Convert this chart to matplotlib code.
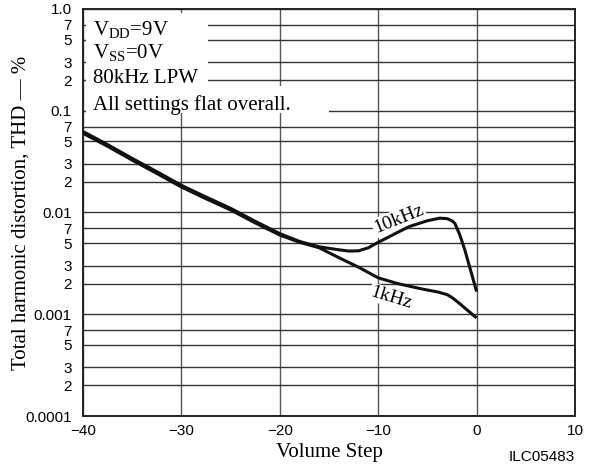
import matplotlib
matplotlib.use("Agg")
import matplotlib.pyplot as plt
from matplotlib.patches import Rectangle
from matplotlib.ticker import FixedLocator

plt.rcParams['mathtext.fontset'] = 'custom'
plt.rcParams['mathtext.rm'] = 'Liberation Serif'
plt.rcParams['mathtext.it'] = 'Liberation Serif'

# ---- data ----
steps_1k = [-40, -37.5, -35, -32.5, -30, -27.5, -25, -22.5, -20, -18, -16, -14, -12,
            -10, -8, -6, -5, -4, -3, -2.5, -2, -1, 0]
thd_1k = [0.0600, 0.0447, 0.0327, 0.0242, 0.0178, 0.01365, 0.0106, 0.0079, 0.0060,
          0.0051, 0.0045, 0.0036, 0.0029, 0.00228, 0.00200, 0.00181, 0.00173, 0.00166,
          0.00156, 0.00146, 0.00134, 0.00111, 0.00092]

steps_10k = [-40, -37.5, -35, -32.5, -30, -27.5, -25, -22.5, -20, -18, -16, -14, -13,
             -12, -11, -10, -9, -8, -6.8, -5, -3.75, -3, -2.5, -2.2, -1.7, -1.2, -0.7, 0]
thd_10k = [0.0625, 0.0465, 0.0340, 0.0252, 0.0185, 0.0142, 0.0110, 0.0082, 0.0062,
           0.0052, 0.0046, 0.0043, 0.00418, 0.0042, 0.0045, 0.0051, 0.0057, 0.0064,
           0.0073, 0.0083, 0.0088, 0.0087, 0.0083, 0.0078, 0.0060, 0.0043, 0.0029,
           0.00167]

x_ticks = [-40, -30, -20, -10, 0, 10]
x_tick_labels = ['\u221240', '\u221230', '\u221220', '\u221210', '0', '10']
y_major = [1.0, 0.1, 0.01, 0.001, 0.0001]
y_major_labels = ['1.0', '0.1', '0.01', '0.001', '0.0001']
minor_digits = [2, 3, 5, 7]

notes = ['V$_{\\rm DD}$=9V', 'V$_{\\rm SS}$=0V', '80kHz LPW', 'All settings flat overall.']

# ---- figure ----
W, H = 592, 468
fig = plt.figure(figsize=(W / 100, H / 100), dpi=100)
ax = fig.add_axes([83 / W, (H - 416) / H, 492 / W, 407 / H])
ax.set_yscale('log')
ax.set_xlim(-40, 10)
ax.set_ylim(0.0001, 1.0)

# ticks
ax.set_xticks(x_ticks)
ax.set_xticklabels(x_tick_labels)
minor_vals = [d * m for m in [0.0001, 0.001, 0.01, 0.1] for d in minor_digits]
ax.yaxis.set_major_locator(FixedLocator(y_major))
ax.set_yticklabels(y_major_labels)
ax.yaxis.set_minor_locator(FixedLocator(minor_vals))
ax.set_yticklabels([str(d) for m in range(4) for d in minor_digits], minor=True)
for lab in ax.get_xticklabels() + ax.get_yticklabels() + ax.get_yticklabels(minor=True):
    lab.set_fontfamily('Liberation Sans')
    lab.set_fontsize(11)
ax.tick_params(axis='both', which='both', length=0, pad=8)
ax.tick_params(axis='x', pad=6)

ax.grid(True, which='both', axis='y', color='#333333', lw=1.0)
ax.grid(True, which='major', axis='x', color='#555555', lw=1.0)
ax.set_axisbelow(True)
for sp in ax.spines.values():
    sp.set_linewidth(1.4)
    sp.set_color('#222222')

# white cover boxes for the notes
ax.add_patch(Rectangle((0.006, 0.808), 0.248, 0.182, transform=ax.transAxes,
                       facecolor='white', edgecolor='none', zorder=1.5))
ax.add_patch(Rectangle((0.006, 0.744), 0.494, 0.066, transform=ax.transAxes,
                       facecolor='white', edgecolor='none', zorder=1.5))

# curves
ax.plot(steps_10k, thd_10k, color='#111111', lw=2.2, zorder=5, solid_capstyle='butt')
ax.plot(steps_1k, thd_1k, color='#111111', lw=2.2, zorder=5, solid_capstyle='butt')

serif = 'Liberation Serif'
ypos = [0.936, 0.880, 0.818, 0.752]
for t, yy in zip(notes, ypos):
    ax.text(0.020, yy, t, transform=ax.transAxes, fontfamily=serif, fontsize=15,
            va='baseline', ha='left', zorder=4)

ax.text(-7.9, 0.0086, '10kHz', fontfamily=serif, fontsize=14, rotation=22,
        ha='center', va='center', zorder=4,
        bbox=dict(facecolor='white', edgecolor='none', pad=1.0))
ax.text(-8.7, 0.00146, '1kHz', fontfamily=serif, fontsize=14, rotation=-17,
        ha='center', va='center', zorder=4,
        bbox=dict(facecolor='white', edgecolor='none', pad=0.5))

ax.set_xlabel('Volume Step', fontfamily=serif, fontsize=15, labelpad=3.5)
ax.set_ylabel('Total harmonic distortion, THD \u2014 %', fontfamily=serif, fontsize=15)
ax.yaxis.set_label_coords(-0.106, 0.5)
fig.text(575 / W, 1 - 457 / H, 'ILC05483', fontfamily='Liberation Sans', fontsize=11,
         ha='right', va='center')

fig.savefig('out.png', dpi=100)
